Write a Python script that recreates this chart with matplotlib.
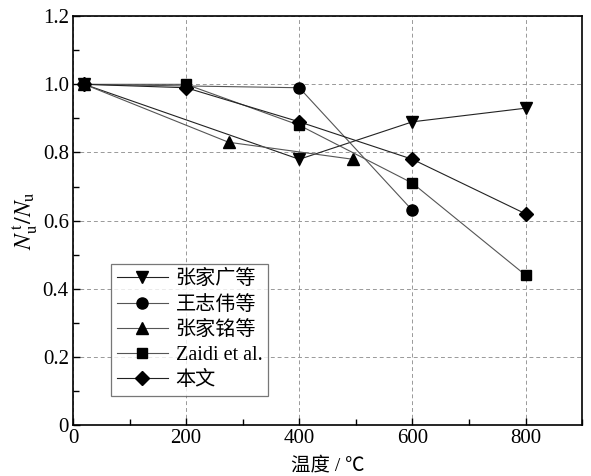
import matplotlib
matplotlib.use('Agg')
import matplotlib.pyplot as plt
from matplotlib.ticker import MultipleLocator

plt.rcParams['font.family'] = ['Liberation Serif', 'Noto Sans CJK SC']
plt.rcParams['mathtext.fontset'] = 'stix'

# data
labels = ['张家广等', '王志伟等', '张家铭等', 'Zaidi et al.', '本文']
markers = ['v', 'o', '^', 's', 'D']
x_zhang_jg = [20, 400, 600, 800]
y_zhang_jg = [1.0, 0.78, 0.89, 0.93]
x_wang = [20, 400, 600]
y_wang = [1.0, 0.99, 0.63]
x_zhang_jm = [20, 275, 495]
y_zhang_jm = [1.0, 0.83, 0.78]
x_zaidi = [20, 200, 400, 600, 800]
y_zaidi = [1.0, 1.0, 0.88, 0.71, 0.44]
x_this = [20, 200, 400, 600, 800]
y_this = [1.0, 0.99, 0.89, 0.78, 0.62]

xs = [x_zhang_jg, x_wang, x_zhang_jm, x_zaidi, x_this]
ys = [y_zhang_jg, y_wang, y_zhang_jm, y_zaidi, y_this]
line_cols = ['#222222', '#555555', '#555555', '#555555', '#222222']
msizes = [8, 8, 8, 7, 7]

fig = plt.figure(figsize=(5.91, 4.76), dpi=100)
ax = fig.add_axes([0.1235, 0.107, 0.8615, 0.859])

for x, y, m, lab, lc, ms in zip(xs, ys, markers, labels, line_cols, msizes):
    ax.plot(x, y, color=lc, lw=0.8, marker=m, markersize=ms,
            markerfacecolor='black', markeredgecolor='black', label=lab)

ax.set_xlim(0, 900)
ax.set_ylim(0, 1.2)
ax.xaxis.set_major_locator(MultipleLocator(200))
ax.xaxis.set_minor_locator(MultipleLocator(100))
ax.yaxis.set_minor_locator(MultipleLocator(0.1))
ax.set_yticks([0, 0.2, 0.4, 0.6, 0.8, 1.0, 1.2])
ax.set_yticklabels(['0', '0.2', '0.4', '0.6', '0.8', '1.0', '1.2'])
ax.tick_params(which='both', direction='in', top=False, right=False,
               labelsize=15, pad=3)
ax.tick_params(which='major', length=5, width=1)
ax.tick_params(which='minor', length=4, width=1)

ax.grid(True, which='major', ls=(0, (4, 3)), color='#999999', lw=0.7)
ax.set_axisbelow(True)
for s in ax.spines.values():
    s.set_linewidth(1.2)

ax.set_xlabel('温度 / ℃', fontsize=14, labelpad=6)
ax.set_ylabel(r'$N_{\mathrm{u}}^{\,\mathrm{t}}/N_{\mathrm{u}}$', fontsize=17, labelpad=2)

leg = ax.legend(loc='lower left', bbox_to_anchor=(0.075, 0.071), fontsize=14.5,
                frameon=True, fancybox=False, edgecolor='#555555',
                handlelength=2.5, handletextpad=0.4, borderpad=0.3,
                labelspacing=0.3, borderaxespad=0)
leg.get_frame().set_linewidth(0.9)

fig.savefig('out.png', dpi=100, facecolor='white')
